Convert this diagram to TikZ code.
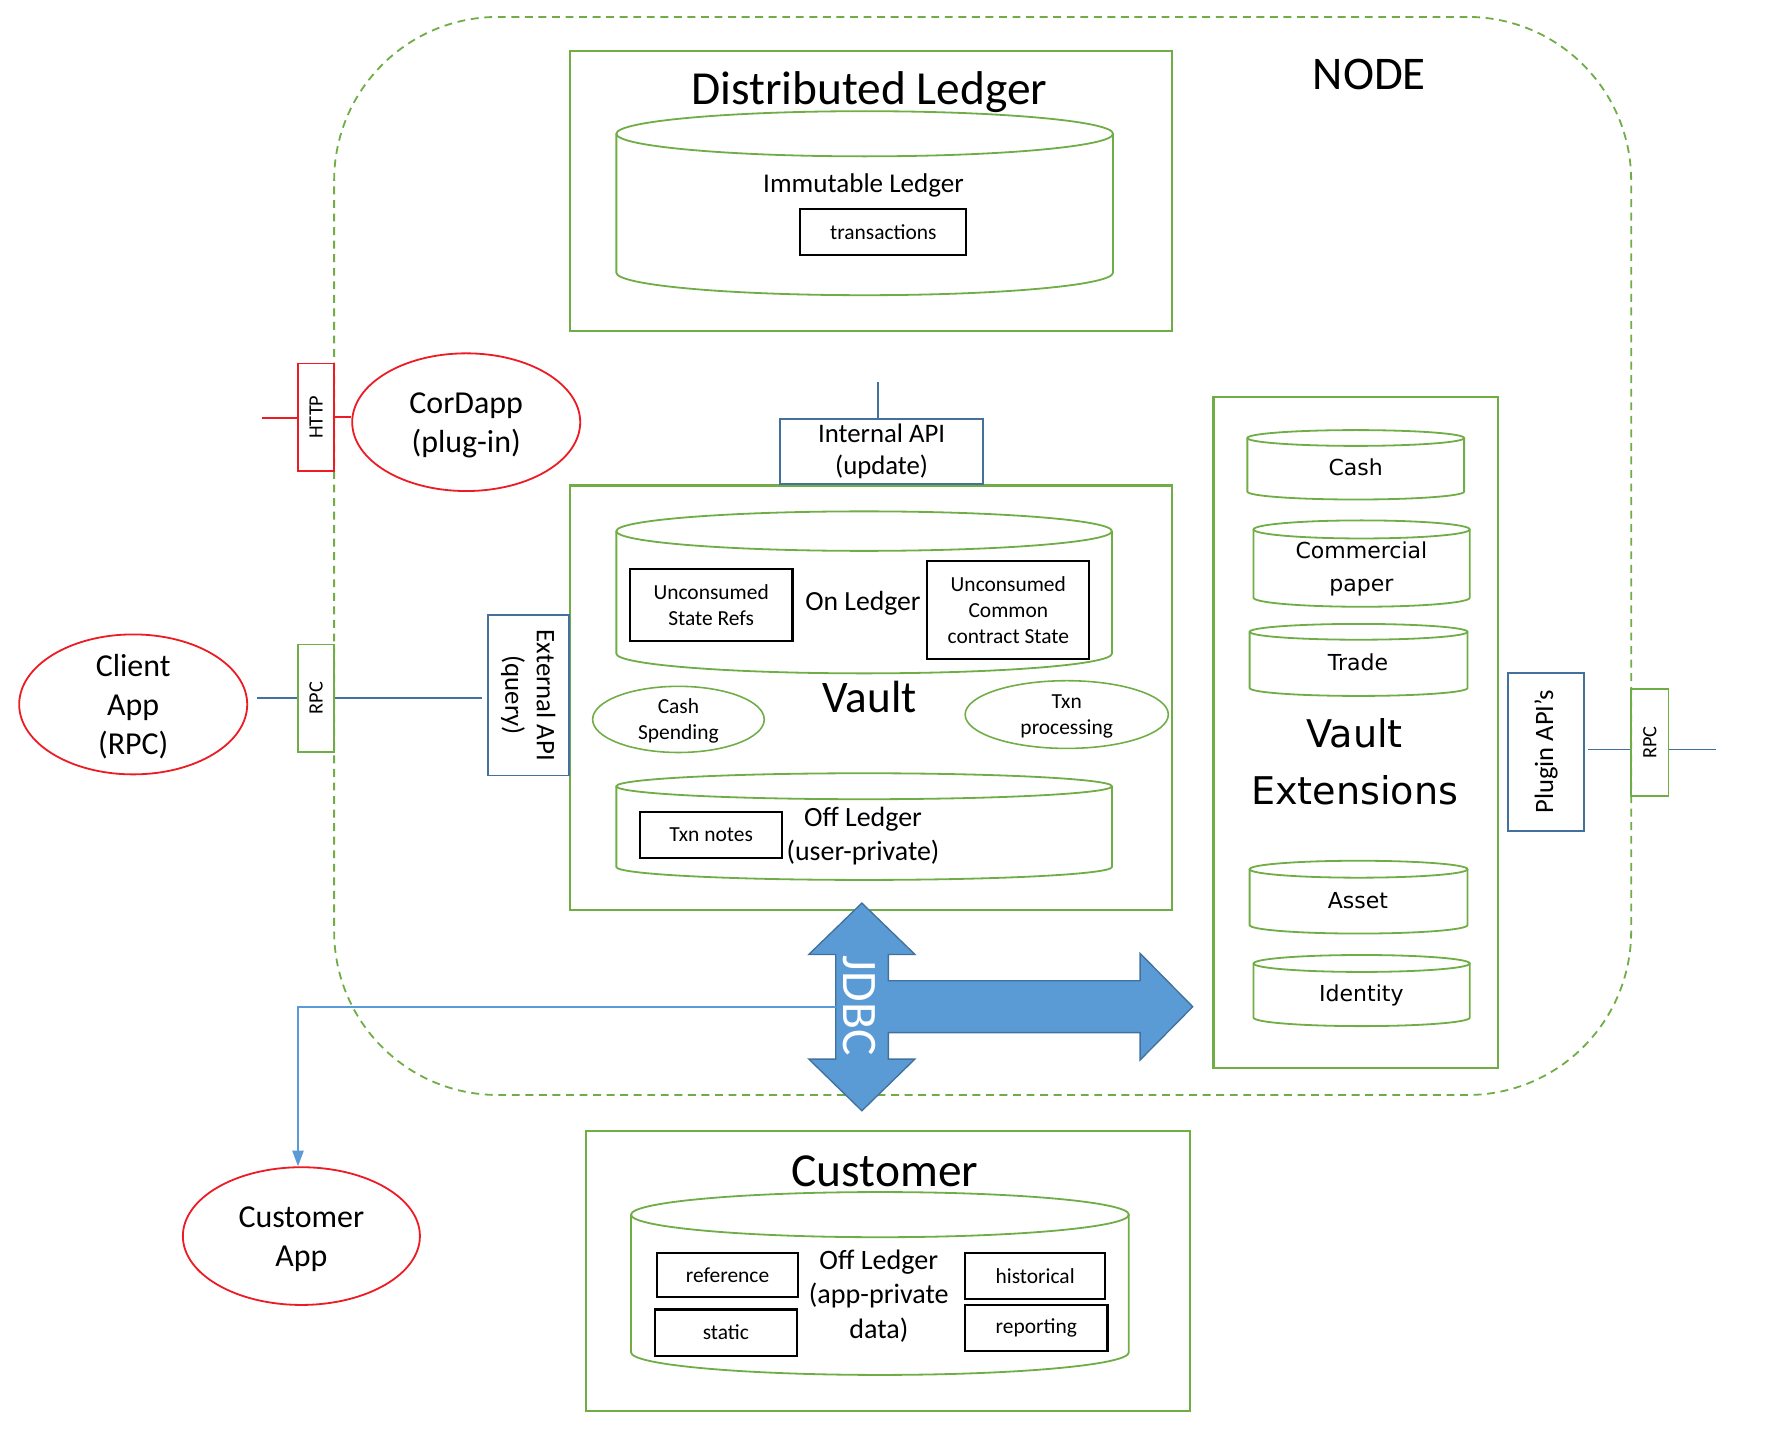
\documentclass[tikz,border=0pt]{standalone}
\usepackage{fontspec}
\setmainfont{Carlito}
\newfontfamily\extfont{DejaVu Sans}
\usetikzlibrary{arrows.meta,fit,shapes.geometric}

\definecolor{nodegreen}{RGB}{112,173,71}
\definecolor{apiblue}{RGB}{65,113,156}
\definecolor{linkblue}{RGB}{91,155,213}
\definecolor{appred}{RGB}{237,28,36}

\tikzset{
  greenbox/.style={draw=nodegreen, line width=2pt, inner sep=0pt},
  bluebox/.style={draw=apiblue, line width=1.6pt, inner sep=0pt, align=center},
  redbox/.style={draw=appred, line width=1.6pt, inner sep=0pt},
  portbox/.style={draw=nodegreen, line width=1.6pt, inner sep=0pt, rotate=90,
    minimum width=95pt, minimum height=32pt, font=\fontsize{18}{20}\selectfont},
  databox/.style={draw=black, line width=2pt, inner sep=0pt, align=center,
    font=\fontsize{19}{23}\selectfont},
  appoval/.style={ellipse, draw=appred, line width=1.6pt, inner sep=-6pt, align=center,
    font=\fontsize{28.3}{34.5}\selectfont},
  taskoval/.style={ellipse, draw=nodegreen, line width=1.4pt, inner sep=-6pt, align=center,
    font=\fontsize{19}{23}\selectfont},
  cylline/.style={draw=nodegreen, line width=1.6pt},
  headtext/.style={anchor=base, font=\fontsize{42}{50}\selectfont},
  exttext/.style={align=center, font=\extfont\fontsize{19.5}{29.5}\selectfont},
}

\newcommand{\ledgerdb}[5]{%
  \pgfmathsetmacro\cylcx{(#1+#2)/2}%
  \pgfmathsetmacro\cylrx{(#2-#1)/2}%
  \draw[cylline] (\cylcx,#3) ellipse[x radius=\cylrx pt, y radius=#5pt];
  \draw[cylline] (#1,#3) -- (#1,#4) arc[start angle=180, end angle=360, x radius=\cylrx pt, y radius=#5pt] -- (#2,#3);
}

\begin{document}
\begin{tikzpicture}[x=1pt, y=-1pt]
\useasboundingbox (0,0) rectangle (1568,1275);

\node[greenbox, line width=1.6pt, dash pattern=on 7pt off 5pt, rounded corners=145pt, fit={(296,15) (1445,970)}] (nodebound) {};
\node[anchor=base, font=\fontsize{41.5}{45}\selectfont] (nodetitle) at (1213,79.5) {NODE};

\node[greenbox, fit={(505,45) (1038,293)}] (distledger) {};
\node[headtext] (dltitle) at (770,93) {Distributed Ledger};
\ledgerdb{546}{986}{118.5}{241.5}{20}
\node[anchor=base, font=\fontsize{24}{28}\selectfont] (immutable) at (765,170.5) {Immutable Ledger};
\node[databox, minimum width=147pt, minimum height=41pt] (txns) at (782.5,205.5) {transactions};

\node[redbox, rotate=90, minimum width=95pt, minimum height=32pt, font=\fontsize{18}{20}\selectfont] (http) at (280,369.5) {HTTP};
\node[appoval, minimum width=202pt, minimum height=122pt] (cordapp) at (413,374) {\strut CorDapp\\(plug-in)};
\coordinate (httpfree) at (232,370);
\draw[appred, line width=1.6pt] (httpfree) -- (httpfree -| http.north);
\draw[appred, line width=1.6pt] (http.south) -- (http.south -| cordapp.west);

\node[appoval, minimum width=202pt, minimum height=124pt] (clientapp) at (118,624) {\strut Client\\App\\(RPC)};
\node[portbox] (rpcl) at (280,618.5) {RPC};

\node[greenbox, fit={(505,430) (1038,806)}] (vault) {};
\node[bluebox, rotate=-90, minimum width=142pt, minimum height=72pt, font=\fontsize{23.7}{28}\selectfont] (extapi) at (468,616) {External API\\(query)};
\node[bluebox, minimum width=180pt, minimum height=58pt, font=\fontsize{23.7}{28}\selectfont] (intapi) at (781,400) {Internal API\\(update)};
\coordinate (intfree) at (778,338);
\draw[apiblue, line width=1.6pt] (intfree) -- (intfree |- intapi.north);
\draw[apiblue, line width=1.6pt, shorten <=8pt] (rpcl.north -| clientapp.east) -- (rpcl.north);
\draw[apiblue, line width=1.6pt, shorten >=4pt] (rpcl.south) -- (rpcl.south -| extapi.south);

\ledgerdb{546}{985}{470.5}{579}{17.5}
\node[databox, minimum width=144pt, minimum height=64pt] (staterefs) at (630,536) {Unconsumed\\State Refs};
\node[anchor=base, font=\fontsize{24.5}{28}\selectfont] (onledger) at (764.5,540.5) {On Ledger};
\node[databox, minimum width=143.5pt, minimum height=87pt] (contractstate) at (893.25,540.5) {Unconsumed\\Common\\contract State};
\node[anchor=base, font=\fontsize{40}{44}\selectfont] (vaulttitle) at (770.5,631) {Vault};
\node[taskoval, minimum width=152pt, minimum height=58.6pt] (cashspend) at (601,637.3) {\strut Cash\\Spending};
\node[taskoval, minimum width=180pt, minimum height=60pt] (txnproc) at (945,633) {\strut Txn\\processing};
\ledgerdb{546}{985}{696.5}{768}{11.5}
\node[databox, minimum width=126pt, minimum height=41pt] (txnnotes) at (630,739.5) {Txn notes};
\node[align=center, font=\fontsize{24.7}{30}\selectfont] (offledger) at (764.5,740.5) {Off Ledger\\(user-private)};

\node[greenbox, fit={(1075,352) (1327,946)}] (vaultext) {};
\ledgerdb{1105}{1297}{388}{435.5}{7}
\node[exttext] (cash) at (1201,414) {Cash};
\ledgerdb{1110.5}{1302}{469}{529.5}{8}
\node[exttext] (cpaper) at (1206,504) {Commercial\\paper};
\ledgerdb{1107}{1300}{559.7}{609.5}{7}
\node[exttext] (trade) at (1203,587) {Trade};
\node[align=center, font=\extfont\fontsize{33.8}{51}\selectfont] (exttitle) at (1200,675) {Vault\\Extensions};
\ledgerdb{1107}{1300}{770}{819.5}{7.5}
\node[exttext] (asset) at (1203,798) {Asset};
\ledgerdb{1110.5}{1302}{853.5}{901.5}{7.5}
\node[exttext] (identity) at (1206,882) {Identity};

\node[bluebox, rotate=90, minimum width=140pt, minimum height=67.5pt, font=\fontsize{23.5}{28}\selectfont] (plugin) at (1369.5,666) {Plugin API’s};
\node[portbox, minimum width=94.5pt, minimum height=33pt] (rpcr) at (1461.5,657.8) {RPC};
\coordinate (rpcfree) at (1520,664);
\draw[apiblue, line width=1.6pt, shorten <=3pt] (plugin.south |- rpcfree) -- (rpcfree -| rpcr.north);
\draw[apiblue, line width=1.6pt] (rpcr.south |- rpcfree) -- (rpcfree);

\filldraw[fill=linkblue, draw=apiblue, line width=1.2pt] (763.5,800) -- (810.5,845.5) -- (787,845.5) -- (787,868.8) -- (1010,868.8) -- (1010,844.6) -- (1056.6,891.8) -- (1010,939) -- (1010,914.8) -- (787,914.8) -- (787,938.2) -- (810.5,938.2) -- (763.5,984) -- (716.5,938.2) -- (740.3,938.2) -- (740.3,845.5) -- (716.5,845.5) -- cycle;
\node[rotate=-90, text=white, font=\fontsize{44}{44}\selectfont] (jdbc) at (761,891) {JDBC};
\coordinate (jdbcw) at (740.3,892);

\node[appoval, minimum width=210pt, minimum height=122pt] (custapp) at (267,1095) {\strut Customer\\App};
\draw[linkblue, line width=1.6pt, -{Triangle[width=10pt,length=14pt]}] (jdbcw) -| ([xshift=-3pt]custapp.north);

\node[greenbox, fit={(519,1002) (1054,1250)}] (customer) {};
\node[headtext] (custtitle) at (784,1051) {Customer};
\ledgerdb{559}{1000}{1076}{1198}{20}
\node[databox, minimum width=125pt, minimum height=39pt] (reference) at (644.5,1129.5) {reference};
\node[databox, minimum width=126pt, minimum height=41pt] (static) at (643,1180.5) {static};
\node[databox, minimum width=124pt, minimum height=41pt] (historical) at (917,1130.5) {historical};
\node[databox, minimum width=126pt, minimum height=41pt] (reporting) at (918,1176.5) {reporting};
\node[align=center, font=\fontsize{24.9}{30.5}\selectfont] (custoff) at (778.5,1148) {Off Ledger\\(app-private\\data)};
\end{tikzpicture}
\end{document}
